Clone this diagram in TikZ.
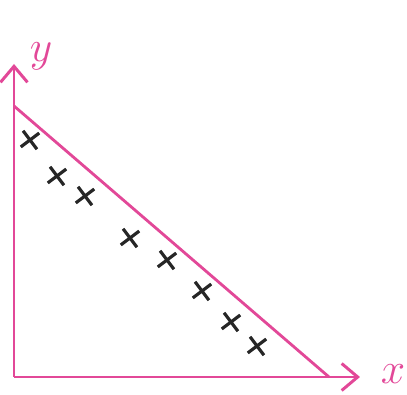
\documentclass[tikz,border=0pt]{standalone}
\usepackage{tikz}
\usetikzlibrary{arrows.meta,positioning,shapes.misc}
\definecolor{axpink}{RGB}{226,72,152}
\tikzset{
  axis/.style={axpink, line width=1.7pt, -{Straight Barb[length=3.2mm, width=5.4mm, line width=1.7pt]}},
  fitln/.style={axpink, line width=1.6pt},
  pt/.style={cross out, draw=black!85, line width=1.8pt, minimum size=7.5pt, inner sep=0pt, rotate=-8},
  alab/.style={axpink, font=\fontsize{27}{29}\selectfont},
}
\begin{document}
\begin{tikzpicture}[x=0.02cm, y=-0.02cm]
  \useasboundingbox (0,0) rectangle (407,395);
  \coordinate (o) at (14,377);
  \coordinate (ytip) at (14,64);
  \coordinate (xtip) at (360,377);
  \coordinate (yint) at (14,106);
  \coordinate (xint) at (329,377);
  \draw[axis] (o) -- (ytip);
  \draw[axis] (o) -- (xtip);
  \draw[fitln] (yint) -- (xint);
  \node[alab] (ylab) at (41,56) {$y$};
  \node[alab] (xlab) at (393,374) {$x$};
  % data points
  \node[pt] (p1) at (30,140) {};
  \node[pt] (p2) at (57,176) {};
  \node[pt] (p3) at (85,196) {};
  \node[pt] (p4) at (130,238) {};
  \node[pt] (p5) at (167,260) {};
  \node[pt] (p6) at (202,291) {};
  \node[pt] (p7) at (231,322) {};
  \node[pt] (p8) at (257,346) {};
\end{tikzpicture}
\end{document}
